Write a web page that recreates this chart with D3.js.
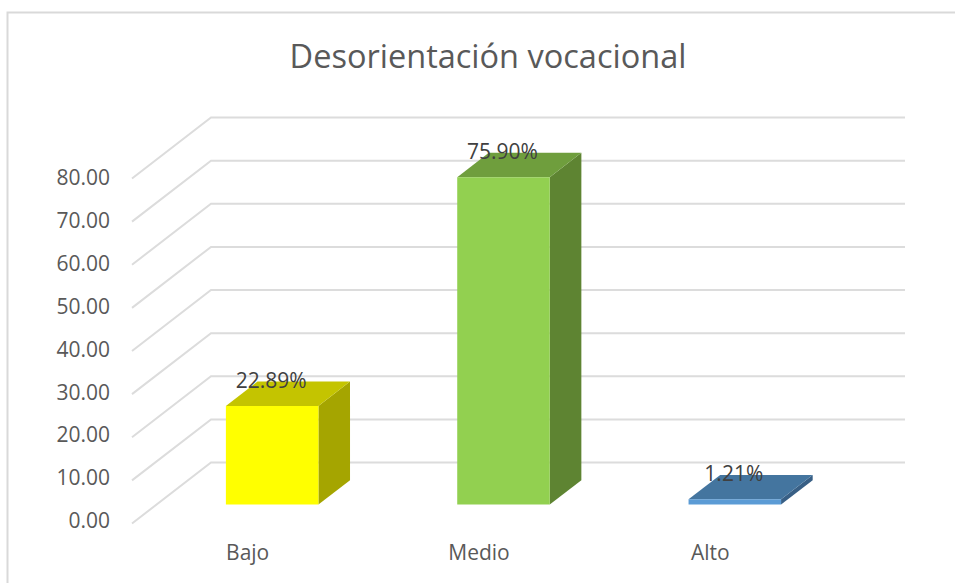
<!DOCTYPE html>
<meta charset="utf-8">
<head>
    <title>Desorientación vocacional</title>
    <script src="https://d3js.org/d3.v7.min.js"></script>
    <style>
        body { margin: 0; background: #fff; }
        text { font-family: "Open Sans", sans-serif; }
    </style>
</head>
<body>
<script>
    var categories = ["Bajo", "Medio", "Alto"];
    var values = [22.89, 75.90, 1.21];
    var valueLabels = ["22.89%", "75.90%", "1.21%"];
    var yTicks = [0, 10, 20, 30, 40, 50, 60, 70, 80];
    var frontColors = ["#ffff00", "#92d050", "#5b9bd5"];
    var topColors = ["#c4c400", "#6f9e3d", "#44759f"];
    var sideColors = ["#a5a500", "#5e8432", "#385f85"];

    var width = 955, height = 583;

    // oblique projection of the 3d box: front wall of the plot, then the shift to the back wall
    var depthX = 79, depthY = -61;
    var barStart = 0.31, barEnd = 0.71;

    var svg = d3.select("body").append("svg")
        .attr("width", width)
        .attr("height", height);

    var x = d3.scaleBand()
        .domain(categories)
        .range([132, 826])
        .paddingInner(0.6)
        .paddingOuter(0.3);

    var y = d3.scaleLinear()
        .domain([0, 80])
        .range([523.5, 178.5]);

    // tick labels sit a little off the gridline starts, more so at the bottom
    var yLabel = d3.scaleLinear()
        .domain([0, 80])
        .range([521, 178]);

    // chart frame
    svg.append("path")
        .attr("d", "M955,12.5H7.5V583")
        .attr("fill", "none")
        .attr("stroke", "#d9d9d9")
        .attr("stroke-width", 2);

    svg.append("text")
        .attr("x", 488)
        .attr("y", 68)
        .attr("text-anchor", "middle")
        .attr("font-size", 32.5)
        .attr("fill", "#595959")
        .text("Desorientación vocacional");

    // gridlines, bent at the back wall
    svg.append("g").selectAll("path")
        .data(yTicks)
        .enter().append("path")
        .attr("fill", "none")
        .attr("stroke", "#dcdcdc")
        .attr("stroke-width", 2)
        .attr("d", function (d) {
            return d3.line()([
                [x.range()[0], y(d)],
                [x.range()[0] + depthX, y(d) + depthY],
                [x.range()[1] + depthX, y(d) + depthY]
            ]);
        });

    var yAxis = d3.axisLeft(yLabel)
        .tickValues(yTicks)
        .tickFormat(d3.format(".2f"))
        .tickSize(0)
        .tickPadding(22);

    var yAxisG = svg.append("g")
        .attr("transform", "translate(132,0)")
        .call(yAxis);
    yAxisG.select(".domain").remove();
    yAxisG.selectAll("text")
        .attr("font-size", 21)
        .attr("fill", "#595959")
        .style("font-family", "\"Open Sans\", sans-serif");

    var xAxis = d3.axisBottom(x).tickSize(0).tickPadding(0);
    var xAxisG = svg.append("g")
        .attr("transform", "translate(0,545)")
        .call(xAxis);
    xAxisG.select(".domain").remove();
    xAxisG.selectAll("text")
        .attr("font-size", 21)
        .attr("fill", "#595959")
        .style("font-family", "\"Open Sans\", sans-serif");

    var bars = svg.append("g").selectAll("g")
        .data(categories)
        .enter().append("g");

    function corner(i, dx, dy, v) {
        return [
            x(categories[i]) + dx + depthX * barStart,
            y(v) + depthY * barStart + dy
        ];
    }

    function face(i, pts) {
        return d3.line()(pts.map(function (p) { return corner(i, p[0], p[1], p[2]); }));
    }

    // side face
    bars.append("path")
        .attr("fill", function (d, i) { return sideColors[i]; })
        .attr("d", function (d, i) {
            var w = x.bandwidth(), ox = depthX * (barEnd - barStart), oy = depthY * (barEnd - barStart);
            return face(i, [[w, 0, 0], [w + ox, oy, 0], [w + ox, oy, values[i]], [w, 0, values[i]]]) + "Z";
        });

    // top face
    bars.append("path")
        .attr("fill", function (d, i) { return topColors[i]; })
        .attr("d", function (d, i) {
            var w = x.bandwidth(), ox = depthX * (barEnd - barStart), oy = depthY * (barEnd - barStart);
            return face(i, [[0, 0, values[i]], [ox, oy, values[i]], [w + ox, oy, values[i]], [w, 0, values[i]]]) + "Z";
        });

    // front face
    bars.append("path")
        .attr("fill", function (d, i) { return frontColors[i]; })
        .attr("d", function (d, i) {
            var w = x.bandwidth();
            return face(i, [[0, 0, 0], [w, 0, 0], [w, 0, values[i]], [0, 0, values[i]]]) + "Z";
        });

    bars.append("text")
        .attr("x", function (d, i) { return corner(i, x.bandwidth() / 2, 0, values[i])[0] - 1; })
        .attr("y", function (d, i) { return corner(i, 0, 0, values[i])[1] - 18; })
        .attr("text-anchor", "middle")
        .attr("font-size", 21)
        .attr("fill", "#404040")
        .text(function (d, i) { return valueLabels[i]; });
</script>
</body>
</html>
